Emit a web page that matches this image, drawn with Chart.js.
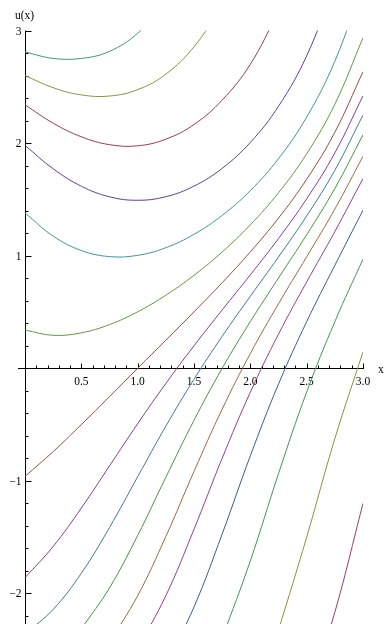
<!DOCTYPE html>
<html>
<head>
<meta charset="utf-8">
<script src="https://cdn.jsdelivr.net/npm/chart.js@4/dist/chart.umd.min.js"></script>
<style>
  html, body { margin: 0; padding: 0; background: #fff; }
  canvas { display: block; }
</style>
</head>
<body>
<canvas id="solutions" width="384" height="624"></canvas>
<script>
// sample points along x for every solution curve
var xGrid = [0, 0.25, 0.5, 0.75, 1.0, 1.25, 1.5, 1.75, 2.0, 2.25, 2.5, 2.75, 3.0];

// u(x) for each curve, top-left to bottom-right (null = off the plot)
var curve1  = [2.81, 2.752, 2.752, 2.815, 2.975, 3.24, null, null, null, null, null, null, null];
var curve2  = [2.60, 2.492, 2.428, 2.418, 2.475, 2.612, 2.855, 3.22, null, null, null, null, null];
var curve3  = [2.34, 2.177, 2.056, 1.986, 1.976, 2.035, 2.165, 2.382, 2.70, 3.17, null, null, null];
var curve4  = [1.98, 1.772, 1.617, 1.523, 1.492, 1.524, 1.618, 1.776, 2.006, 2.327, 2.775, 3.41, null];
var curve5  = [1.38, 1.174, 1.046, 0.992, 1.003, 1.071, 1.19, 1.358, 1.578, 1.862, 2.231, 2.727, 3.41];
var curve6  = [0.34, 0.293, 0.315, 0.388, 0.502, 0.649, 0.826, 1.033, 1.274, 1.559, 1.905, 2.345, 2.935];
var curve7  = [-0.96, -0.74, -0.50, -0.252, 0.0, 0.249, 0.501, 0.76, 1.034, 1.334, 1.679, 2.096, 2.634];
var curve8  = [-1.86, -1.582, -1.241, -0.867, -0.492, -0.135, 0.20, 0.518, 0.83, 1.153, 1.505, 1.913, 2.42];
var curve9  = [-2.36, -2.141, -1.82, -1.414, -0.963, -0.514, -0.097, 0.284, 0.64, 0.989, 1.353, 1.759, 2.249];
var curve10 = [null, null, -2.314, -1.95, -1.485, -0.968, -0.462, 0.0, 0.415, 0.802, 1.186, 1.597, 2.073];
var curve11 = [null, null, null, -2.432, -2.02, -1.494, -0.916, -0.363, 0.131, 0.573, 0.99, 1.414, 1.883];
var curve12 = [null, null, null, null, -2.489, -2.02, -1.43, -0.799, -0.212, 0.303, 0.767, 1.214, 1.685];
var curve13 = [null, null, null, null, null, -2.63, -2.12, -1.472, -0.777, -0.14, 0.414, 0.914, 1.404];
var curve14 = [null, null, null, null, null, null, null, -2.397, -1.71, -0.936, -0.211, 0.414, 0.97];
var curve15 = [null, null, null, null, null, null, null, null, null, -2.327, -1.5, -0.625, 0.145];
var curve16 = [null, null, null, null, null, null, null, null, null, null, -2.949, -2.167, -1.2];

var curveColors = [
  'rgb(61,153,124)', 'rgb(129,153,61)', 'rgb(153,61,75)', 'rgb(101,61,153)',
  'rgb(61,151,153)', 'rgb(98,153,61)', 'rgb(153,78,61)', 'rgb(132,61,153)',
  'rgb(61,121,153)', 'rgb(67,153,61)', 'rgb(153,109,61)', 'rgb(153,61,144)',
  'rgb(61,90,153)', 'rgb(61,153,86)', 'rgb(153,139,61)', 'rgb(153,61,113)'
];

// labelled ticks on the two axes
var xTickLabels = [0.5, 1.0, 1.5, 2.0, 2.5, 3.0];
var yTickLabels = [-2, -1, 1, 2, 3];

var curves = [curve1, curve2, curve3, curve4, curve5, curve6, curve7, curve8,
              curve9, curve10, curve11, curve12, curve13, curve14, curve15, curve16];

var datasets = curves.map(function (u, i) {
  var pts = [];
  xGrid.forEach(function (x, j) {
    if (u[j] !== null) pts.push({ x: x, y: u[j] });
  });
  return {
    data: pts,
    borderColor: curveColors[i],
    borderWidth: 1,
    pointRadius: 0,
    fill: false,
    tension: 0.4,
    clip: 0
  };
});

var serif = '"Liberation Serif", "DejaVu Serif", serif';

// axes through the origin, ticks pointing into the plot
var originAxes = {
  id: 'originAxes',
  beforeDatasetsDraw: function (chart) {
    var ctx = chart.ctx;
    var xs = chart.scales.x, ys = chart.scales.y;
    var x0 = Math.round(xs.getPixelForValue(0)) + 0.5;
    var y0 = Math.round(ys.getPixelForValue(0)) + 0.5;
    ctx.save();
    ctx.strokeStyle = '#000';
    ctx.lineWidth = 1;
    ctx.beginPath();
    ctx.moveTo(xs.left, y0);
    ctx.lineTo(xs.right + 1, y0);
    ctx.moveTo(x0, ys.top);
    ctx.lineTo(x0, ys.bottom);

    var k, px, len;
    for (k = 1; k <= 30; k++) {
      px = Math.round(xs.getPixelForValue(k / 10)) + 0.5;
      len = (k % 5 === 0) ? 5 : 3;
      ctx.moveTo(px, y0);
      ctx.lineTo(px, y0 - len);
    }
    for (k = -11; k <= 15; k++) {
      if (k === 0) continue;
      px = Math.round(ys.getPixelForValue(k * 0.2)) + 0.5;
      len = (k % 5 === 0) ? 6 : 3;
      ctx.moveTo(x0, px);
      ctx.lineTo(x0 + len, px);
    }
    ctx.stroke();

    ctx.fillStyle = '#000';
    ctx.font = '11.5px ' + serif;
    ctx.textAlign = 'center';
    ctx.textBaseline = 'alphabetic';
    xTickLabels.forEach(function (v) {
      ctx.fillText(v.toFixed(1), xs.getPixelForValue(v), y0 + 16);
    });
    ctx.textAlign = 'right';
    yTickLabels.forEach(function (v) {
      var t = v < 0 ? '\u2212' + Math.abs(v) : String(v);
      ctx.fillText(t, x0 - 4, ys.getPixelForValue(v) + 4);
    });

    ctx.textAlign = 'center';
    ctx.fillText('u(x)', x0 - 1, 19);
    ctx.textAlign = 'left';
    ctx.fillText('x', xs.right + 15, y0 + 4);
    ctx.restore();
  }
};

new Chart(document.getElementById('solutions').getContext('2d'), {
  type: 'line',
  data: { datasets: datasets },
  options: {
    responsive: false,
    animation: false,
    devicePixelRatio: 1,
    elements: { line: { capBezierPoints: false } },
    layout: { padding: { left: 18, right: 21, top: 30.5, bottom: 0 } },
    plugins: { legend: { display: false }, tooltip: { enabled: false } },
    scales: {
      x: { type: 'linear', min: -0.0622, max: 3.0, display: false },
      y: { type: 'linear', min: -2.271, max: 3.0, display: false }
    }
  },
  plugins: [originAxes]
});
</script>
</body>
</html>
